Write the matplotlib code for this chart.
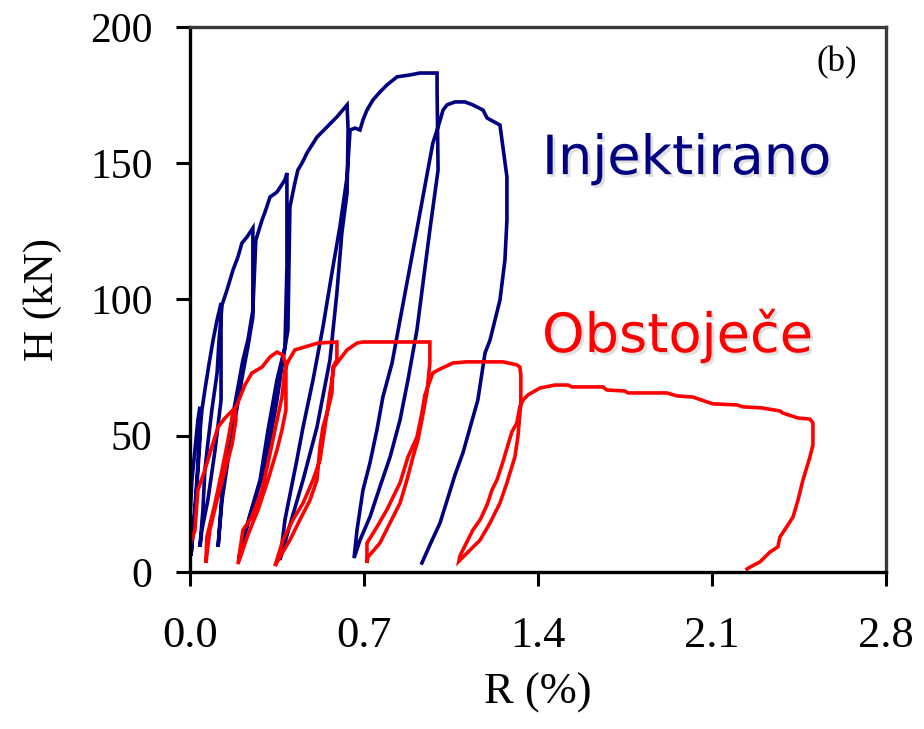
import matplotlib
matplotlib.use("Agg")
import matplotlib.pyplot as plt
import matplotlib.patheffects as pe

# Injektirano (injected wall): R (%) and H (kN), in drawing order
inj_R = [0.0, 0.0, 0.008, 0.020, 0.032, 0.040,
         0.040, 0.024, 0.008, 0.004,
         0.016, 0.028, 0.036, 0.048,
         0.060, 0.076, 0.093, 0.109, 0.125,
         0.125, 0.101, 0.072, 0.048, 0.040,
         0.052, 0.060, 0.072, 0.088, 0.109, 0.117, 0.129,
         0.149, 0.173, 0.193, 0.209, 0.229, 0.253,
         0.253, 0.233, 0.213, 0.181, 0.153, 0.129, 0.113,
         0.129, 0.149, 0.169, 0.193, 0.213, 0.233, 0.253, 0.265,
         0.290, 0.302, 0.322, 0.350, 0.382, 0.390,
         0.390, 0.382, 0.350, 0.314, 0.282, 0.241, 0.209, 0.197,
         0.213, 0.249, 0.290, 0.322, 0.350, 0.374, 0.394, 0.398, 0.402,
         0.422, 0.434, 0.451, 0.471, 0.511, 0.551, 0.591, 0.632,
         0.636, 0.632, 0.611, 0.591, 0.563, 0.511, 0.455, 0.402, 0.362,
         0.382, 0.430, 0.455, 0.495, 0.535, 0.575, 0.603, 0.632, 0.644,
         0.664, 0.684, 0.696, 0.712, 0.736, 0.764, 0.792, 0.833, 0.885, 0.925, 0.994,
         0.994, 0.998, 0.965, 0.913, 0.877, 0.845, 0.805, 0.764, 0.724, 0.684, 0.660,
         0.672, 0.696, 0.724, 0.752, 0.776, 0.813, 0.845, 0.905, 0.977, 0.998,
         1.018, 1.034, 1.066, 1.106, 1.138, 1.179, 1.195, 1.247,
         1.275, 1.275, 1.267, 1.247, 1.207, 1.187, 1.158, 1.098, 1.066, 1.006, 0.965, 0.933]
inj_H = [0.0, 19.1, 33.8, 44.8, 55.8, 60.6,
         48.4, 26.4, 9.9, 5.9,
         19.1, 33.8, 46.6, 59.4,
         66.8, 76.0, 85.1, 92.5, 98.7,
         63.1, 44.8, 26.4, 15.4, 9.2,
         22.8, 37.4, 47.3, 59.4, 73.0, 85.1, 98.0,
         103.5, 110.8, 115.6, 120.7, 122.9, 126.2,
         93.6, 82.6, 73.0, 55.8, 41.1, 26.4, 9.2,
         29.0, 44.8, 55.8, 67.9, 77.8, 85.1, 96.1, 121.8,
         129.2, 132.1, 137.6, 139.4, 143.9, 146.4,
         111.9, 82.6, 70.5, 52.1, 33.8, 20.9, 9.9, 5.1,
         11.7, 22.8, 34.9, 48.4, 63.1, 77.8, 88.8, 111.9, 133.9,
         142.8, 147.5, 150.1, 153.8, 159.6, 163.3, 167.0, 171.4,
         162.2, 139.1, 124.4, 102.4, 77.8, 53.2, 33.8, 17.2, 4.4,
         19.1, 41.1, 53.2, 70.5, 89.9, 111.9, 126.6, 145.0, 162.2,
         162.9, 162.2, 165.9, 169.5, 173.2, 176.1, 178.7, 181.7, 182.4, 183.1, 183.1,
         176.9, 147.5, 125.5, 88.8, 70.5, 55.8, 42.2, 31.2, 20.2, 11.7, 5.1,
         15.4, 30.1, 40.0, 52.1, 64.2, 76.7, 92.5, 121.8, 157.4, 163.3,
         169.5, 171.4, 172.5, 172.5, 171.4, 169.5, 166.6, 164.0,
         145.0, 129.2, 114.5, 99.8, 85.1, 80.4, 63.1, 43.7, 35.6, 18.0, 9.9, 3.3]

# Obstoječe (existing wall)
obs_R = [0.0, 0.0, 0.020, 0.032, 0.060, 0.088, 0.113, 0.141, 0.181,
         0.185, 0.169, 0.141, 0.109, 0.080, 0.064,
         0.068, 0.101, 0.129, 0.153, 0.173, 0.189,
         0.221, 0.249, 0.290, 0.322, 0.350, 0.374, 0.386,
         0.386, 0.370, 0.350, 0.314, 0.274, 0.233, 0.201, 0.193,
         0.213, 0.249, 0.290, 0.314, 0.342, 0.370, 0.382,
         0.394, 0.422, 0.463, 0.515, 0.591,
         0.591, 0.575, 0.571, 0.555, 0.535, 0.523, 0.511, 0.483, 0.442, 0.402, 0.362, 0.342,
         0.374, 0.414, 0.455, 0.495, 0.523, 0.543, 0.563, 0.579,
         0.595, 0.632, 0.672, 0.696, 0.965,
         0.965, 0.953, 0.933, 0.917, 0.897, 0.873, 0.845, 0.805, 0.764, 0.716, 0.712,
         0.712, 0.752, 0.792, 0.845, 0.877, 0.913, 0.933, 0.945,
         0.977, 0.998, 1.058, 1.114, 1.259, 1.315, 1.327,
         1.331, 1.331, 1.319, 1.307, 1.275, 1.247, 1.207, 1.167, 1.106, 1.082,
         1.086, 1.118, 1.138, 1.167, 1.195, 1.215, 1.235, 1.259, 1.279, 1.295, 1.315, 1.327,
         1.340, 1.360, 1.408, 1.468, 1.521, 1.537, 1.661, 1.677, 1.750, 1.762, 1.919,
         1.959, 2.023, 2.080, 2.104, 2.200, 2.224, 2.301, 2.373, 2.385, 2.446, 2.494, 2.506,
         2.506, 2.494, 2.466, 2.446, 2.426, 2.405, 2.373, 2.365, 2.333, 2.293, 2.253, 2.241]
obs_H = [0.0, 9.9, 15.4, 30.1, 37.4, 45.9, 53.2, 56.5, 60.2,
         55.8, 46.6, 37.4, 26.4, 15.4, 3.3,
         12.8, 25.3, 37.4, 48.4, 58.3, 61.3,
         68.6, 73.0, 75.2, 78.9, 80.7, 79.6, 76.0,
         59.4, 52.1, 44.8, 33.8, 22.8, 13.6, 5.1, 2.9,
         15.4, 20.2, 30.1, 40.0, 52.1, 64.2, 74.1,
         77.1, 81.5, 82.6, 84.0, 84.4,
         77.8, 75.2, 65.7, 59.4, 53.2, 45.9, 33.8, 26.4, 19.1, 11.7, 5.5, 2.2,
         11.7, 19.1, 25.3, 33.8, 41.1, 53.2, 65.7, 75.2,
         77.1, 81.5, 84.0, 84.4, 84.4,
         76.7, 65.7, 55.8, 48.4, 42.2, 33.8, 25.3, 18.0, 10.6, 5.5, 3.3,
         10.6, 16.5, 22.8, 32.7, 42.2, 49.5, 58.3, 65.0,
         73.0, 74.1, 76.7, 77.1, 77.1, 76.0, 75.2,
         72.3, 62.0, 49.5, 42.2, 32.7, 25.3, 18.0, 11.7, 6.2, 4.0,
         5.9, 11.7, 15.4, 19.1, 24.6, 30.1, 33.8, 40.4, 46.6, 51.4, 54.7, 60.6,
         63.1, 65.0, 67.5, 68.6, 68.6, 67.9, 67.9, 66.8, 66.4, 65.7, 65.7,
         64.6, 64.2, 62.4, 61.7, 61.3, 60.6, 60.2, 59.1, 58.3, 56.5, 56.1, 54.7,
         46.6, 42.2, 33.8, 26.4, 20.2, 17.2, 12.8, 9.2, 7.3, 3.7, 1.8, 1.1]

x_ticks = [0.0, 0.7, 1.4, 2.1, 2.8]
y_ticks = [0, 50, 100, 150, 200]

BLUE = "#000080"
RED = "#ff0000"
serif = "Liberation Serif"

fig = plt.figure(figsize=(9.24, 7.29), dpi=100)
ax = fig.add_axes([0.2056, 0.2154, 0.7533, 0.7476])

ax.plot(inj_R, inj_H, color=BLUE, lw=2.6, solid_joinstyle="miter")
ax.plot(obs_R, obs_H, color=RED, lw=2.6, solid_joinstyle="miter")

ax.set_xlim(0, 2.8)
ax.set_ylim(0, 200)
ax.set_xticks(x_ticks)
ax.set_xticklabels([f"{v:.1f}" for v in x_ticks], fontsize=32, family=serif)
ax.set_yticks(y_ticks)
ax.set_yticklabels([str(v) for v in y_ticks], fontsize=30, family=serif)
ax.tick_params(axis="both", direction="out", length=10, width=2.2, colors="black")
ax.tick_params(axis="x", pad=22)
ax.tick_params(axis="y", pad=17)

for side in ["left", "bottom"]:
    ax.spines[side].set_linewidth(2.4)
    ax.spines[side].set_color("black")
for side in ["top", "right"]:
    ax.spines[side].set_linewidth(2.4)
    ax.spines[side].set_color("#3a3a3a")

ax.set_xlabel("R (%)", fontsize=32, family=serif, labelpad=12)
ax.set_ylabel("H (kN)", fontsize=31, family=serif, labelpad=20)

shadow = [pe.withSimplePatchShadow(offset=(2, -2), shadow_rgbFace="#999999", alpha=0.3)]
ax.text(1.416, 146, "Injektirano", color=BLUE, fontsize=39, family="DejaVu Sans",
        ha="left", va="baseline", path_effects=shadow)
ax.text(1.416, 80.7, "Obstoječe", color=RED, fontsize=39, family="DejaVu Sans",
        ha="left", va="baseline", path_effects=shadow)
ax.text(2.683, 187, "(b)", fontsize=25, family=serif, ha="right", va="center")

fig.savefig("out.png", dpi=100)
